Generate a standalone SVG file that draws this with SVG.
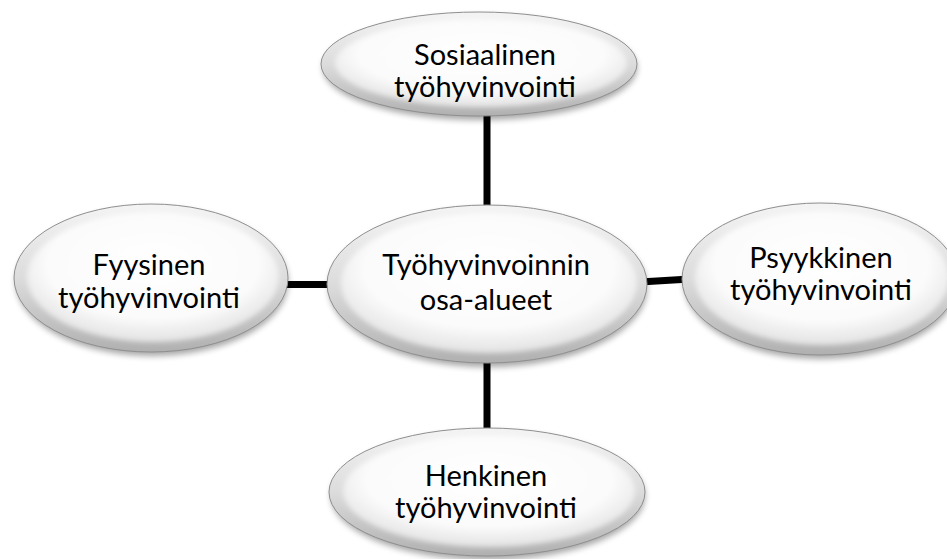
<svg xmlns="http://www.w3.org/2000/svg" width="947" height="559" viewBox="0 0 947 559">
  <style>
    .lbl { font-family: Lato, "Liberation Sans", sans-serif; font-size: 29px; fill: #000; text-anchor: middle; }
    .link { stroke: #000; stroke-width: 7; fill: none; }
    .rim { fill: url(#rimGrad); stroke: #8f8f8f; stroke-width: 1; }
    .face { fill: url(#faceGrad); filter: url(#soft); }
    .shadow { fill: #000; opacity: 0.35; filter: url(#shadowBlur); }
  </style>
  <defs>
    <linearGradient id="rimGrad" x1="0" y1="0" x2="0" y2="1">
      <stop offset="0" stop-color="#f4f4f4"/>
      <stop offset="0.5" stop-color="#dcdcdc"/>
      <stop offset="1" stop-color="#b0b0b0"/>
    </linearGradient>
    <radialGradient id="faceGrad" cx="0.5" cy="0.4" r="0.6">
      <stop offset="0" stop-color="#ffffff"/>
      <stop offset="0.7" stop-color="#fbfbfb"/>
      <stop offset="1" stop-color="#e2e2e2"/>
    </radialGradient>
    <filter id="soft" x="-10%" y="-10%" width="120%" height="120%">
      <feGaussianBlur stdDeviation="2.5"/>
    </filter>
    <filter id="shadowBlur" x="-10%" y="-20%" width="120%" height="140%">
      <feGaussianBlur stdDeviation="3"/>
    </filter>
  </defs>

  <rect width="947" height="559" fill="#ffffff"/>

  <!-- spokes from the hub to each outer ellipse -->
  <g id="connectors">
    <line class="link" x1="487" y1="110" x2="487" y2="215"/>
    <line class="link" x1="487" y1="355" x2="487" y2="440"/>
    <line class="link" x1="280" y1="284.5" x2="335" y2="284.5"/>
    <line class="link" x1="640" y1="282" x2="690" y2="279" stroke-width="6"/>
  </g>

  <g id="node-sosiaalinen">
    <ellipse class="shadow" cx="480" cy="68" rx="157" ry="52"/>
    <ellipse class="rim" cx="479" cy="64" rx="158" ry="52"/>
    <ellipse class="face" cx="481" cy="63" rx="146" ry="44"/>
    <text class="lbl" x="485" y="65">Sosiaalinen</text>
    <text class="lbl" x="485" y="97">työhyvinvointi</text>
  </g>

  <g id="node-fyysinen">
    <ellipse class="shadow" cx="152" cy="282" rx="136" ry="74"/>
    <ellipse class="rim" cx="151" cy="278" rx="137" ry="74"/>
    <ellipse class="face" cx="153" cy="277" rx="126" ry="65"/>
    <text class="lbl" x="149" y="275">Fyysinen</text>
    <text class="lbl" x="149" y="308">työhyvinvointi</text>
  </g>

  <g id="node-keskus">
    <ellipse class="shadow" cx="488" cy="288" rx="159" ry="79"/>
    <ellipse class="rim" cx="487" cy="284" rx="160" ry="79"/>
    <ellipse class="face" cx="489" cy="283" rx="148" ry="70"/>
    <text class="lbl" x="486" y="275">Työhyvinvoinnin</text>
    <text class="lbl" x="486" y="310">osa-alueet</text>
  </g>

  <g id="node-psyykkinen">
    <ellipse class="shadow" cx="821" cy="283" rx="137" ry="76"/>
    <ellipse class="rim" cx="820" cy="279" rx="138" ry="76"/>
    <ellipse class="face" cx="822" cy="278" rx="127" ry="67"/>
    <text class="lbl" x="821" y="268">Psyykkinen</text>
    <text class="lbl" x="821" y="300">työhyvinvointi</text>
  </g>

  <g id="node-henkinen">
    <ellipse class="shadow" cx="488" cy="496" rx="157" ry="64"/>
    <ellipse class="rim" cx="487" cy="492" rx="158" ry="64"/>
    <ellipse class="face" cx="489" cy="491" rx="146" ry="56"/>
    <text class="lbl" x="486" y="486">Henkinen</text>
    <text class="lbl" x="486" y="518">työhyvinvointi</text>
  </g>
</svg>
